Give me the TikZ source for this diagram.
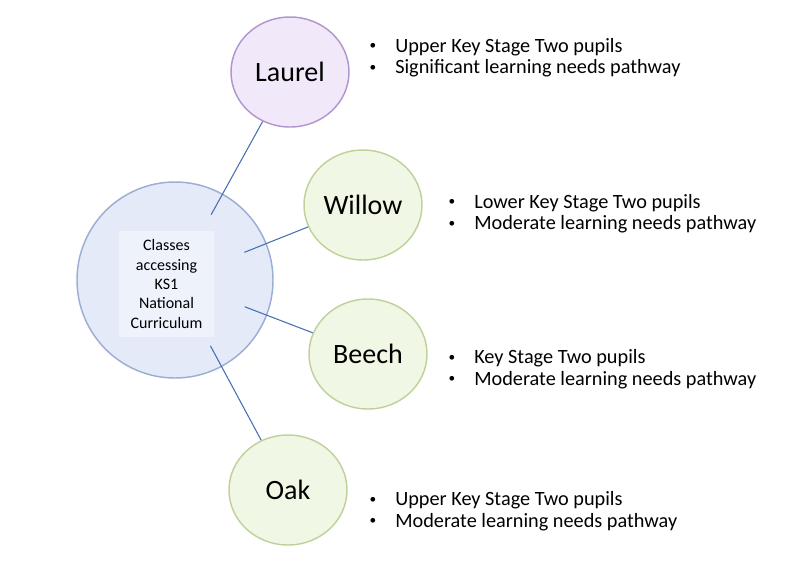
\documentclass[tikz,border=0pt]{standalone}
\usepackage{fontspec}
\setmainfont{Carlito}
\usetikzlibrary{shapes.geometric}
\definecolor{cfill}{RGB}{228,234,248}
\definecolor{cdraw}{RGB}{156,174,212}
\definecolor{rfill}{RGB}{238,242,251}
\definecolor{lfill}{RGB}{241,233,249}
\definecolor{ldraw}{RGB}{178,150,206}
\definecolor{gfill}{RGB}{241,247,229}
\definecolor{gdraw}{RGB}{192,210,156}
\definecolor{linkc}{RGB}{72,110,180}
\tikzset{
  hub/.style={circle, fill=cfill, draw=cdraw, line width=1.1pt, minimum size=147pt, inner sep=0pt},
  leaf/.style={ellipse, line width=1.1pt, minimum width=88.5pt, minimum height=82.5pt, inner sep=0pt, font=\fontsize{21}{24}\selectfont},
  purpleleaf/.style={leaf, fill=lfill, draw=ldraw},
  greenleaf/.style={leaf, fill=gfill, draw=gdraw},
  inner box/.style={fill=rfill, minimum width=71.25pt, minimum height=79.5pt, inner sep=0pt},
  hubtext/.style={align=center, font=\fontsize{12}{14.5}\selectfont, inner sep=0pt},
  bullets/.style={anchor=west, inner sep=0pt, font=\fontsize{15.2}{16.2}\selectfont},
  link/.style={draw=linkc, line width=0.8pt, shorten <=56pt}
}
\newcommand{\bl}{\makebox[20.25pt][l]{\hspace{1pt}\raisebox{0.12em}{\fontsize{10}{10}\selectfont\textbullet}}}
\begin{document}
\begin{tikzpicture}[x=0.75pt, y=-0.75pt]
\useasboundingbox (0,0) rectangle (800,562);
\node[hub] (c) at (175,280) {};
\node[inner box] (r) at (166.5,284) {};
\node[hubtext] (ct) at (166.5,284) {Classes\\accessing\\KS1\\National\\Curriculum};
\node[purpleleaf] (laurel) at (290,72) {Laurel};
\node[greenleaf] (willow) at (363,205) {Willow};
\node[greenleaf] (beech) at (368,354) {Beech};
\node[greenleaf] (oak) at (288,490) {Oak};
\draw[link] (c.center) -- (laurel);
\draw[link] (c.center) -- (willow);
\draw[link] (c.center) -- (beech);
\draw[link] (c.center) -- (oak);
\node[bullets] (tl) at (368,58.5) {\begin{tabular}{@{}l@{}}\bl Upper Key Stage Two pupils\\ \bl Significant learning needs pathway\end{tabular}};
\node[bullets] (tw) at (447,214.5) {\begin{tabular}{@{}l@{}}\bl Lower Key Stage Two pupils\\ \bl Moderate learning needs pathway\end{tabular}};
\node[bullets] (tb) at (447,370) {\begin{tabular}{@{}l@{}}\bl Key Stage Two pupils\\ \bl Moderate learning needs pathway\end{tabular}};
\node[bullets] (to) at (368,512) {\begin{tabular}{@{}l@{}}\bl Upper Key Stage Two pupils\\ \bl Moderate learning needs pathway\end{tabular}};
\end{tikzpicture}
\end{document}
